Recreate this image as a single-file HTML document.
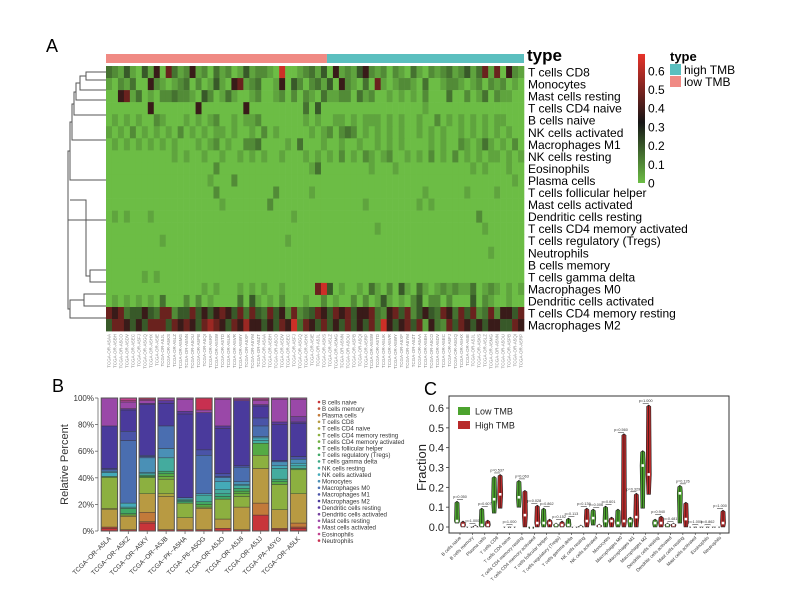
<!DOCTYPE html>
<html><head><meta charset="utf-8"><style>
html,body{margin:0;padding:0;background:#fff;}
svg{display:block;font-family:"Liberation Sans",Arial,sans-serif;}
</style></head><body>
<svg id="fig" width="796" height="592" viewBox="0 0 796 592">
<text x="46" y="52" font-size="18">A</text>
<text x="52" y="392" font-size="18">B</text>
<text x="424" y="395" font-size="18">C</text>
<g id="heat"></g>
<g id="dendro" stroke="#555" stroke-width="1" fill="none">
<path d="M106,72H86V80H106M86,76H80V90H106M80,83H76V100H106M76,92H74V115H106M74,104H72V140H106M72,122H70V180H106M70,151H68V220H106M68,186H68"/>
<path d="M106,270H90V282H106M90,276H86V200H70M106,294H84V306H106M84,300H70V318H106M70,309H68V185"/>
</g>
<g id="bars"></g>
<g id="violin"></g>
</svg>
<script>
const NS='http://www.w3.org/2000/svg';
function mk(p,t,a){const e=document.createElementNS(NS,t);for(const k in a)e.setAttribute(k,a[k]);p.appendChild(e);return e;}
// ===== Heatmap data =====
const heatRows=["T cells CD8","Monocytes","Mast cells resting","T cells CD4 naive","B cells naive","NK cells activated","Macrophages M1","NK cells resting","Eosinophils","Plasma cells","T cells follicular helper","Mast cells activated","Dendritic cells resting","T cells CD4 memory activated","T cells regulatory (Tregs)","Neutrophils","B cells memory","T cells gamma delta","Macrophages M0","Dendritic cells activated","T cells CD4 memory resting","Macrophages M2"];
const heatDigits=[
"3214104150 6312512031 2014122108 0012314051 2145212021 0310212312 4136160521",
"1021300521 0123020141 0561230015 0420231405 2103061012 2103001221 0120212010",
"0056130102 2322104201 3100120012 0202103112 2031200101 0102000300 2013021100",
"0000000500 0000050000 0005000000 0003040000 0000000000 0001000000 0000000000",
"0101010021 0001010120 0101120000 0001010011 0101110101 0010020101 0101011000",
"1010201010 1020101011 0100102010 0000101202 3201010101 0010101001 0101010100",
"0101010101 0100010120 1002230000 1030001001 0010010101 0000101002 1013101020",
"0000000000 0101001001 0010101001 0001010102 0102101200 1010201020 1010110101",
"0000000000 0000000020 0000000000 0000130000 0000100010 0000000000 0101000100",
"0000000000 0000000100 0200000000 0000000000 0000000000 0000000000 0000000010",
"0000000000 0000000020 0000000020 0000100000 0000000000 0001000000 1000010000",
"0000000000 0000000001 0000000200 0000000000 0001000000 0010100000 0000000000",
"0101000100 0000000000 0000000000 0100000000 0000000000 0000000000 0020000000",
"0000000000 0000000000 0000000000 0000000000 0000010000 0000000000 0001000000",
"0000000001 0000000000 0000000000 1000000000 0000000000 0000000000 0000000000",
"0000000000 0000000000 0000000000 0000000000 0000000000 0000000000 0000100000",
"0000000000 0000000000 0000000000 0000000000 0000000000 0000000000 0000000000",
"0000001010 0000000000 0000000000 0000000000 0000000000 0000000000 0000000000",
"0000000000 0000001010 0010101001 0000068401 0010310204 1031012121 1301210101",
"0101010103 0002020100 0030410102 0001002010 0202014101 0240220200 0402100100",
"6563445436 6244645456 5463643645 2623465465 6455632564 6245436536 4623625546",
"4665454666 4656546765 4657554546 5836546454 6454638545 6461532646 5454554465"];
const lowCount=37;
const cbTicks=[0,0.1,0.2,0.3,0.4,0.5,0.6];
// ===== Panel B data =====
const bCats=["B cells naive","B cells memory","Plasma cells","T cells CD8","T cells CD4 naive","T cells CD4 memory resting","T cells CD4 memory activated","T cells follicular helper","T cells regulatory (Tregs)","T cells gamma delta","NK cells resting","NK cells activated","Monocytes","Macrophages M0","Macrophages M1","Macrophages M2","Dendritic cells resting","Dendritic cells activated","Mast cells resting","Mast cells activated","Eosinophils","Neutrophils"];
const bSamples=["TCGA−OR−A5LA","TCGA−OR−A5KZ","TCGA−OR−A5KY","TCGA−OR−A5JB","TCGA−PK−A5HA","TCGA−P6−A5OG","TCGA−OR−A5JO","TCGA−OR−A5J8","TCGA−OR−A5JJ","TCGA−PA−A5YG","TCGA−OR−A5LK"];
const s1=[2,1,0,13,1,23,1,0,0,0,0,3,1,1,1,32,0,0,21,0,0,0];
const s2=[1,0,0,10,0,1,0,1,4,0,1,3,0,47,7,16,1,0,5,1,2,0];
const s3=[6,1,7,14,0,12,0,1,1,0,1,1,11,1,1,38,1,0,2,1,0,1];
const s4=[1,0,0,25,2,11,2,2,2,0,10,0,7,17,0,17,2,0,2,0,0,0];
const s5=[1,0,0,9,0,11,0,0,1,1,1,0,1,0,0,63,2,0,9,1,0,0];
const s6=[1,0,0,16,0,1,0,2,2,0,5,1,0,29,4,28,0,0,2,0,0,9];
const s7=[2,0,0,7,0,15,0,0,2,2,3,6,3,1,2,34,2,0,20,1,0,0];
const s8=[1,0,0,17,0,8,2,2,2,0,2,1,2,11,1,49,0,0,1,1,0,0];
const s9=[12,0,9,26,0,10,0,9,0,0,2,2,1,8,6,9,1,0,3,1,1,0];
const s10=[1,1,0,14,0,19,0,2,2,0,8,2,3,0,1,27,2,0,17,1,0,0];
const s11=[2,1,3,22,0,18,0,1,0,0,2,2,3,0,2,25,1,4,13,1,0,0];
const bValues=[s1,s2,s3,s4,s5,s6,s7,s8,s9,s10,s11];
const bColors=["#c8353a","#c0503a","#c27a3a","#b89a42","#a8a43e","#8cb040","#70ae3e","#55aa44","#40a866","#3aa884","#44ab9e","#44aab8","#4a90b6","#4a6eb0","#4a54a8","#4a3a9c","#5a3a9e","#74409e","#9a48a8","#b0449e","#c2408e","#c83050"];
const bTicks=[0,20,40,60,80,100];
// ===== Panel C data =====
const cCats=["B cells naive","B cells memory","Plasma cells","T cells CD8","T cells CD4 naive","T cells CD4 memory resting","T cells CD4 memory activated","T cells follicular helper","T cells regulatory (Tregs)","T cells gamma delta","NK cells resting","NK cells activated","Monocytes","Macrophages M0","Macrophages M1","Macrophages M2","Dendritic cells resting","Dendritic cells activated","Mast cells resting","Mast cells activated","Eosinophils","Neutrophils"];
const lowMax=[0.13,0.005,0.095,0.255,0.005,0.235,0,0.095,0.02,0.045,0.01,0.09,0.105,0.09,0.05,0.385,0.04,0.02,0.21,0.005,0.005,0.005];
const lowMin=[0.02,0,0,0.07,0,0.1,0,0,0,0,0,0.01,0,0,0,0.095,0,0,0.02,0,0,0];
const lowMed=[0.03,0,0.01,0.14,0,0.15,0,0.02,0.01,0.01,0,0.045,0.03,0.02,0.03,0.31,0.02,0.01,0.17,0,0,0];
const highMax=[0.03,0.01,0.035,0.265,0.005,0.185,0.11,0.04,0.03,0.005,0.095,0.015,0.05,0.47,0.17,0.615,0.055,0.02,0.125,0.005,0.005,0.085];
const highMin=[0,0,0,0.095,0,0,0,0,0,0,0,0,0,0,0,0.165,0,0,0,0,0,0];
const highMed=[0.01,0,0.01,0.165,0,0.06,0.02,0.02,0.01,0,0.03,0.005,0.03,0.03,0.05,0.265,0.02,0.01,0.04,0,0,0.02];
const pVals=["p=0.050","p=1.000","p=0.607","p=0.537","p=1.000","p=0.063","p=0.028","p=0.862","p=0.152","p=0.113","p=0.139","p=0.006","p=0.601","p=0.560","p=0.329","p=1.000","p=0.940","p=0.481","p=0.126","p=1.000","p=0.862","p=1.000"];
const cTicks=[0,0.1,0.2,0.3,0.4,0.5,0.6];

// ===== Draw heatmap =====
const H=document.getElementById('heat');
const hx0=106,hx1=524,hy0=66,rowH=12.05;
const grid=heatDigits.map(s=>s.replace(/ /g,'').split('').map(d=>{d=+d;return d<=4?d*0.045:d/9*0.63;}));
const nCol=grid[0].length, colW=(hx1-hx0)/nCol;
function hcol(v){const a=[108,189,69],b=[22,22,22],c=[232,51,42];let t,p,q;
 if(v<=0.3){t=v/0.3;p=a;q=b;}else{t=Math.min(1,(v-0.3)/0.3);p=b;q=c;}
 return 'rgb('+p.map((x,i)=>Math.round(x+(q[i]-x)*t)).join(',')+')';}
const xHeat=j=>hx0+j*colW, yHeat=i=>hy0+i*rowH;
let ann=mk(H,'rect',{x:hx0,y:54,width:xHeat(lowCount)-hx0,height:9,fill:'#f08a84'});

ann=mk(H,'rect',{x:xHeat(lowCount),y:54,width:hx1-xHeat(lowCount),height:9,fill:'#5bbfbf'});

grid.forEach((row,i)=>{row.forEach((v,j)=>{
 const r=mk(H,'rect',{x:xHeat(j),y:yHeat(i),width:colW+0.3,height:rowH+0.3,fill:hcol(v)});
 
 
});
 const t=mk(H,'text',{x:528,y:yHeat(i)+rowH/2+4.5,'font-size':12});t.textContent=heatRows[i];
 
 
});
for(let j=0;j<nCol;j++){const t=mk(H,'text',{x:0,y:0,'font-size':4.5,fill:'#888',transform:`translate(${xHeat(j)+colW/2+1.5},334) rotate(-90)`,'text-anchor':'end'});t.textContent='TCGA-OR-A5'+String.fromCharCode(65+j%26)+String.fromCharCode(65+(j*7)%26);
 
 }
let tt=mk(H,'text',{x:527,y:61,'font-size':17,'font-weight':'bold'});tt.textContent='type';

// colorbar
const defs=mk(document.getElementById('fig'),'defs',{});
const lg=mk(defs,'linearGradient',{id:'cb',x1:0,y1:1,x2:0,y2:0});
[[0,'#6cbd45'],[0.47,'#161616'],[1,'#e8332a']].forEach(s=>mk(lg,'stop',{offset:s[0],'stop-color':s[1]}));
const cbY=v=>183-v*187;
let cb=mk(H,'rect',{x:638,y:cbY(0.69),width:7,height:cbY(0)-cbY(0.69),fill:'url(#cb)'});

cbTicks.forEach(v=>{const t=mk(H,'text',{x:648,y:cbY(v)+4.5,'font-size':12});t.textContent=String(v);
 });
tt=mk(H,'text',{x:670,y:61,'font-size':13,'font-weight':'bold'});tt.textContent='type';

[['#5bbfbf','high TMB',64],['#f08a84','low TMB',76]].forEach(l=>{
 const r=mk(H,'rect',{x:670,y:l[2],width:11,height:11,fill:l[0]});
 
 const t=mk(H,'text',{x:684,y:l[2]+10,'font-size':12});t.textContent=l[1];
 });

// ===== Panel B =====
const B=document.getElementById('bars');
const bx0=100,bx1=308,by0=531,by1=398;
const yB=v=>by0-(by0-by1)*v/100;
const step=(bx1-bx0)/bSamples.length, bw=step-2.5;
const xB=i=>bx0+i*step+1.2;
mk(B,'line',{x1:bx0-2,y1:by1,x2:bx0-2,y2:by0,stroke:'#666','stroke-width':0.8});
bTicks.forEach(v=>{mk(B,'line',{x1:bx0-5,y1:yB(v),x2:bx0-2,y2:yB(v),stroke:'#666','stroke-width':0.8});
 const t=mk(B,'text',{x:bx0-6,y:yB(v)+3,'font-size':8,'text-anchor':'end',fill:'#333'});t.textContent=v+'%';
 });
let yt=mk(B,'text',{x:0,y:0,'font-size':11,'text-anchor':'middle',fill:'#333',transform:`translate(68,${(by0+by1)/2}) rotate(-90)`});yt.textContent='Relative Percent';

bValues.forEach((vals,i)=>{let acc=0;const tot=vals.reduce((a,b)=>a+b,0);
 vals.forEach((v,k)=>{if(v<=0)return;const p=v/tot*100;
  const r=mk(B,'rect',{x:xB(i),y:yB(acc+p),width:bw,height:yB(acc)-yB(acc+p),fill:bColors[k],stroke:'#333','stroke-width':0.4});
  
  
  acc+=p;});
 const o=mk(B,'rect',{x:xB(i),y:by1,width:bw,height:by0-by1,fill:'none',stroke:'#555','stroke-width':1});
 
 mk(B,'line',{x1:xB(i)+bw/2,y1:by0,x2:xB(i)+bw/2,y2:by0+3,stroke:'#666','stroke-width':0.8});
 const t=mk(B,'text',{x:0,y:0,'font-size':6.5,'text-anchor':'end',fill:'#333',transform:`translate(${xB(i)+bw/2+2},${by0+8}) rotate(-45)`});t.textContent=bSamples[i];
 });
bCats.forEach((c,k)=>{const y=402+k*6.6;
 const d=mk(B,'circle',{cx:319,cy:y,r:1.3,fill:bColors[k]});
 
 const t=mk(B,'text',{x:322,y:y+2.3,'font-size':6.2,fill:'#333'});t.textContent=c;
 });

// ===== Panel C =====
const C=document.getElementById('violin');
const cx0=449,cx1=729,cy0=396,cy1=533;
const yC=v=>527-v*198.3;
const cstep=(720-460)/21;
const xC=i=>460+i*cstep;
let fr=mk(C,'rect',{x:cx0,y:cy0,width:cx1-cx0,height:cy1-cy0,fill:'none',stroke:'#333','stroke-width':1});

cTicks.forEach(v=>{mk(C,'line',{x1:cx0-3,y1:yC(v),x2:cx0,y2:yC(v),stroke:'#333','stroke-width':0.8});
 const t=mk(C,'text',{x:cx0-5,y:yC(v)+4,'font-size':11,'text-anchor':'end',fill:'#222'});t.textContent=v.toFixed(1);
 });
yt=mk(C,'text',{x:0,y:0,'font-size':13,'text-anchor':'middle',fill:'#222',transform:`translate(426,${yC(0.3)}) rotate(-90)`});yt.textContent='Fraction';

function violin(cx,mn,mx,md,col,name){
 const top=yC(mx),bot=yC(mn),mid=yC(md),w=2.6;
 const p=mk(C,'polygon',{points:`${cx},${top} ${cx+w*0.8},${top+1.5} ${cx+w},${mid} ${cx+w*0.7},${bot} ${cx-w*0.7},${bot} ${cx-w},${mid} ${cx-w*0.8},${top+1.5}`,fill:col,stroke:'#222','stroke-width':0.6});
 
 
 mk(C,'line',{x1:cx,y1:top,x2:cx,y2:bot,stroke:'#111','stroke-width':0.6});
 mk(C,'rect',{x:cx-1.3,y:mid-1.3,width:2.6,height:2.6,fill:'#fff'});}
cCats.forEach((c,i)=>{const x=xC(i);
 violin(x-3,lowMin[i],lowMax[i],lowMed[i],'#4ca32e','violin-low-tmb');
 violin(x+3,highMin[i],highMax[i],highMed[i],'#b82a2a','violin-high-tmb');
 const py=yC(Math.max(lowMax[i],highMax[i]))-3;
 mk(C,'line',{x1:x-3,y1:py+1.5,x2:x+3,y2:py+1.5,stroke:'#222','stroke-width':0.5});
 const pt=mk(C,'text',{x:x,y:py,'font-size':3.8,'text-anchor':'middle',fill:'#333'});pt.textContent=pVals[i];
 
 mk(C,'line',{x1:x,y1:cy1,x2:x,y2:cy1+2,stroke:'#333','stroke-width':0.6});
 const t=mk(C,'text',{x:0,y:0,'font-size':4.6,'text-anchor':'end',fill:'#333',transform:`translate(${x+1.5},${cy1+5}) rotate(-45)`});t.textContent=c;
 });
[['#4ca32e','Low TMB',407],['#b82a2a','High TMB',421]].forEach(l=>{
 const r=mk(C,'rect',{x:458,y:l[2],width:12,height:8,fill:l[0]});
 
 const t=mk(C,'text',{x:475,y:l[2]+7.5,'font-size':9,fill:'#222'});t.textContent=l[1];
 });
</script>
</body></html>
